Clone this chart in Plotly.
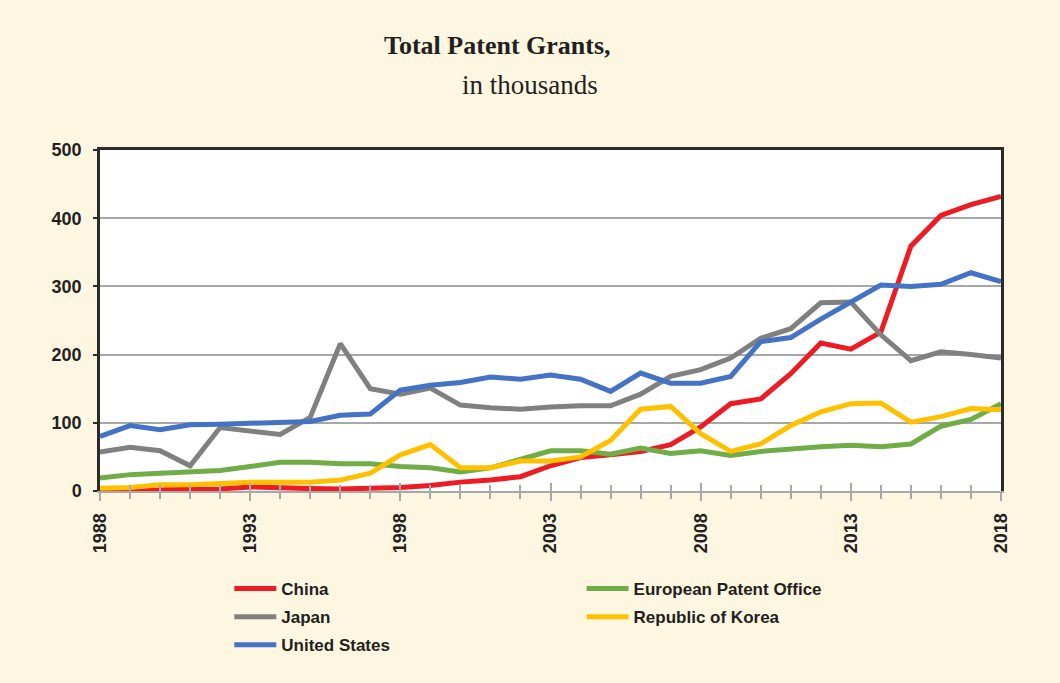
import plotly.graph_objects as go

years = list(range(1988, 2019))
china = [0.5, 1, 1.5, 1.5, 3, 6, 4, 3.5, 3, 3.5, 5, 8, 13, 16, 21, 37, 49, 53, 58, 68,
         94, 128, 135, 172, 217, 208, 233, 359, 404, 420, 432]
epo = [19, 24, 26, 28, 30, 36, 42, 42, 40, 40, 36, 34, 28, 34, 47, 59, 59, 54, 63, 55,
       59, 52, 58, 62, 65, 67, 65, 69, 95, 105, 128]
japan = [57, 64, 59, 37, 93, 88, 83, 108, 216, 150, 142, 151, 126, 122, 120, 123, 125, 125,
         142, 168, 178, 195, 224, 238, 276, 277, 229, 191, 204, 200, 195]
korea = [4, 5, 9, 9, 11, 13, 13, 13, 16, 26, 53, 68, 34, 34, 44, 44, 50, 74, 120, 124,
         84, 58, 69, 96, 116, 128, 129, 101, 109, 121, 119]
usa = [80, 96, 90, 97, 98, 99, 101, 102, 111, 113, 148, 155, 159, 167, 164, 170, 164, 146,
       173, 158, 158, 168, 219, 225, 252, 278, 302, 300, 303, 320, 307]

series = [
    ("China", china, "#ED1C24", "legend"),
    ("European Patent Office", epo, "#70AD47", "legend2"),
    ("Japan", japan, "#808080", "legend"),
    ("Republic of Korea", korea, "#FFC000", "legend2"),
    ("United States", usa, "#4472C4", "legend"),
]
legend_rank = {"China": 1, "Japan": 2, "United States": 3,
               "European Patent Office": 1, "Republic of Korea": 2}

title_text = "Total Patent Grants,"
subtitle_text = "in thousands"
x_ticks = [1988, 1993, 1998, 2003, 2008, 2013, 2018]
y_ticks = [0, 100, 200, 300, 400, 500]

BG = "#FDF6E1"
TXT = "#231F20"
GRID = "#A8A8A8"

fig = go.Figure()
for name, vals, color, leg in series:
    fig.add_trace(go.Scatter(
        x=years, y=vals, name=name, mode="lines",
        line=dict(color=color, width=5),
        legend=leg, legendrank=legend_rank[name], legendgroup=name,
        hoverinfo="skip",
    ))

tickfont = dict(family="Liberation Sans, Arial, sans-serif", size=18, color=TXT, weight="bold")
legfont = dict(family="Liberation Sans, Arial, sans-serif", size=17, color=TXT, weight="bold")

fig.update_layout(
    width=1060, height=683,
    paper_bgcolor=BG, plot_bgcolor="white",
    margin=dict(l=100, r=59, t=150, b=192),
    showlegend=True,
    xaxis=dict(
        range=[1988, 2018], tickmode="array", tickvals=x_ticks,
        tickangle=-90, tickfont=tickfont, ticklabelstandoff=5,
        showgrid=False, zeroline=False,
        showline=True, linecolor=GRID, linewidth=2,
        ticks="outside", ticklen=8, tickwidth=2, tickcolor=GRID,
        minor=dict(dtick=1, tick0=1988, ticks="outside", ticklen=6, tickwidth=2, tickcolor=GRID, showgrid=False),
    ),
    xaxis2=dict(
        range=[1988, 2018], overlaying="x", side="top", anchor="y",
        showline=True, linecolor="#2B2B2B", linewidth=3,
        showticklabels=False, ticks="", showgrid=False, zeroline=False,
    ),
    xaxis3=dict(
        range=[1988, 2018], overlaying="x", side="bottom", anchor="y",
        showline=False, showticklabels=False, showgrid=False, zeroline=False,
        tickmode="array", tickvals=x_ticks,
        ticks="inside", ticklen=8, tickwidth=2, tickcolor=GRID,
        minor=dict(dtick=1, tick0=1988, ticks="inside", ticklen=6, tickwidth=2, tickcolor=GRID, showgrid=False),
    ),
    yaxis=dict(
        range=[0, 500], tickmode="array", tickvals=y_ticks,
        tickfont=tickfont, ticklabelstandoff=8,
        showgrid=True, gridcolor=GRID, gridwidth=1.5, zeroline=False,
        showline=True, mirror=True, linecolor="#2B2B2B", linewidth=2.5,
        ticks="outside", ticklen=4, tickwidth=1.5, tickcolor="#2B2B2B",
    ),
    legend=dict(
        x=0.1435, y=-0.2346,
        xanchor="left", yanchor="top", orientation="v",
        bgcolor="rgba(0,0,0,0)", itemwidth=42, tracegroupgap=3,
        font=legfont,
    ),
    legend2=dict(
        x=0.5345, y=-0.2346,
        xanchor="left", yanchor="top", orientation="v",
        bgcolor="rgba(0,0,0,0)", itemwidth=42, tracegroupgap=3,
        font=legfont,
    ),
    annotations=[
        dict(text=title_text, xref="paper", yref="paper", x=0.441, y=1.307,
             xanchor="center", yanchor="middle", showarrow=False,
             font=dict(family="Liberation Serif, serif", size=26, color=TXT, weight="bold")),
        dict(text=subtitle_text, xref="paper", yref="paper", x=0.477, y=1.1895,
             xanchor="center", yanchor="middle", showarrow=False,
             font=dict(family="Liberation Serif, serif", size=27, color=TXT)),
    ],
)

# invisible helper traces so overlay axes render
fig.add_trace(go.Scatter(x=[1988, 2018], y=[0, 0], xaxis="x2", mode="lines",
                         line=dict(width=0), showlegend=False, hoverinfo="skip"))
fig.add_trace(go.Scatter(x=[1988, 2018], y=[0, 0], xaxis="x3", mode="lines",
                         line=dict(width=0), showlegend=False, hoverinfo="skip"))

fig.write_html(
    "out.html",
    config={"displayModeBar": False},
    post_script="document.body.style.margin='0';document.body.style.background='" + BG + "';",
)
